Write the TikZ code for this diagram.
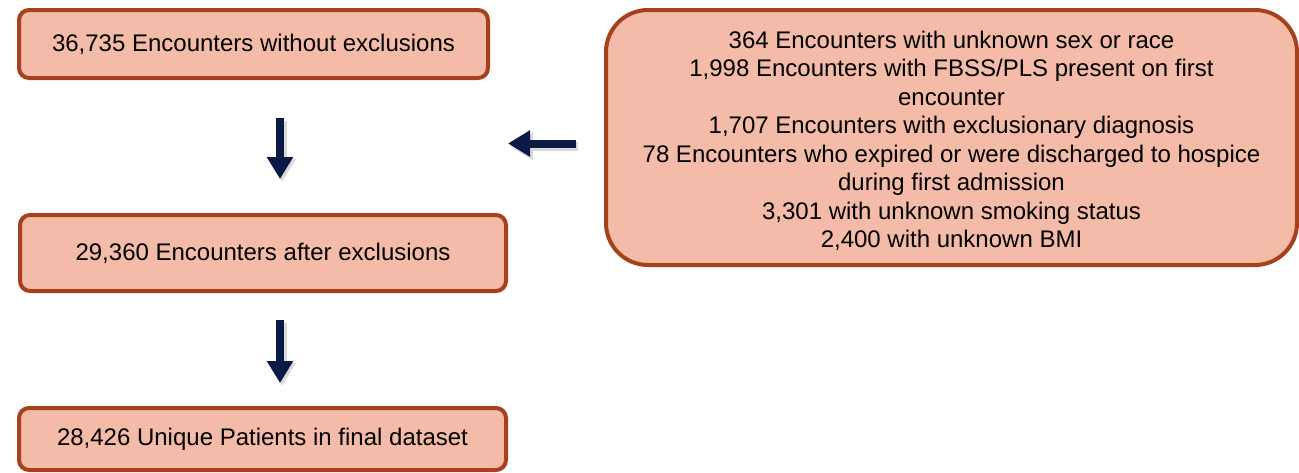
\documentclass[tikz,border=0pt]{standalone}
\usepackage{fontspec}
\setmainfont{Liberation Sans}
\usetikzlibrary{arrows.meta}
\definecolor{boxfill}{HTML}{F4BCA8}
\definecolor{boxline}{HTML}{A6411E}
\definecolor{arrcol}{HTML}{0B1A45}
\begin{document}
\begin{tikzpicture}[x=1pt,y=-1pt,
  flowbox/.style={draw=boxline,fill=boxfill,line width=4pt,rounded corners=10pt,
    inner sep=0pt,align=center,font=\fontsize{24}{28.5}\selectfont},
  bigbox/.style={flowbox,rounded corners=42pt},
  arr/.style={draw=arrcol,line width=8pt,-{Triangle[width=25pt,length=22pt]}},
  shadowarr/.style={draw=black!15,line width=9pt,-{Triangle[width=26pt,length=23pt]}}]
\useasboundingbox (0,0) rectangle (1299,472);
\node[flowbox,minimum width=469pt,minimum height=68pt] (b1) at (253.5,44) {36,735 Encounters without exclusions};
\node[flowbox,minimum width=486pt,minimum height=76pt] (b2) at (263,253) {29,360 Encounters after exclusions};
\node[flowbox,minimum width=487pt,minimum height=62pt] (b3) at (262.5,439) {28,426 Unique Patients in final dataset};
\node[bigbox,minimum width=691pt,minimum height=255pt] (rb) at (951.5,137.5) {\rule{0pt}{24pt}364 Encounters with unknown sex or race\\
1,998 Encounters with FBSS/PLS present on first\\
encounter\\
1,707 Encounters with exclusionary diagnosis\\
78 Encounters who expired or were discharged to hospice\\
during first admission\\
3,301 with unknown smoking status\\
2,400 with unknown BMI};
\coordinate (a1s) at ([yshift=-38pt]b1.south -| 280,0);
\coordinate (a1e) at ([yshift=34pt]b2.north -| 280,0);
\coordinate (a2s) at ([yshift=-27pt]b2.south -| 280,0);
\coordinate (a2e) at ([yshift=23pt]b3.north -| 280,0);
\coordinate (a3s) at ([xshift=-28pt,yshift=-6pt]rb.west);
\coordinate (a3e) at (a3s -| b2.east);
\draw[shadowarr] ([shift={(2pt,-3pt)}]a1s) -- ([shift={(2pt,-3pt)}]a1e);
\draw[shadowarr] ([shift={(2pt,-3pt)}]a2s) -- ([shift={(2pt,-3pt)}]a2e);
\draw[shadowarr] ([shift={(2pt,-3pt)}]a3s) -- ([shift={(2pt,-3pt)}]a3e);
\draw[arr] (a1s) -- (a1e);
\draw[arr] (a2s) -- (a2e);
\draw[arr] (a3s) -- (a3e);
\end{tikzpicture}
\end{document}
